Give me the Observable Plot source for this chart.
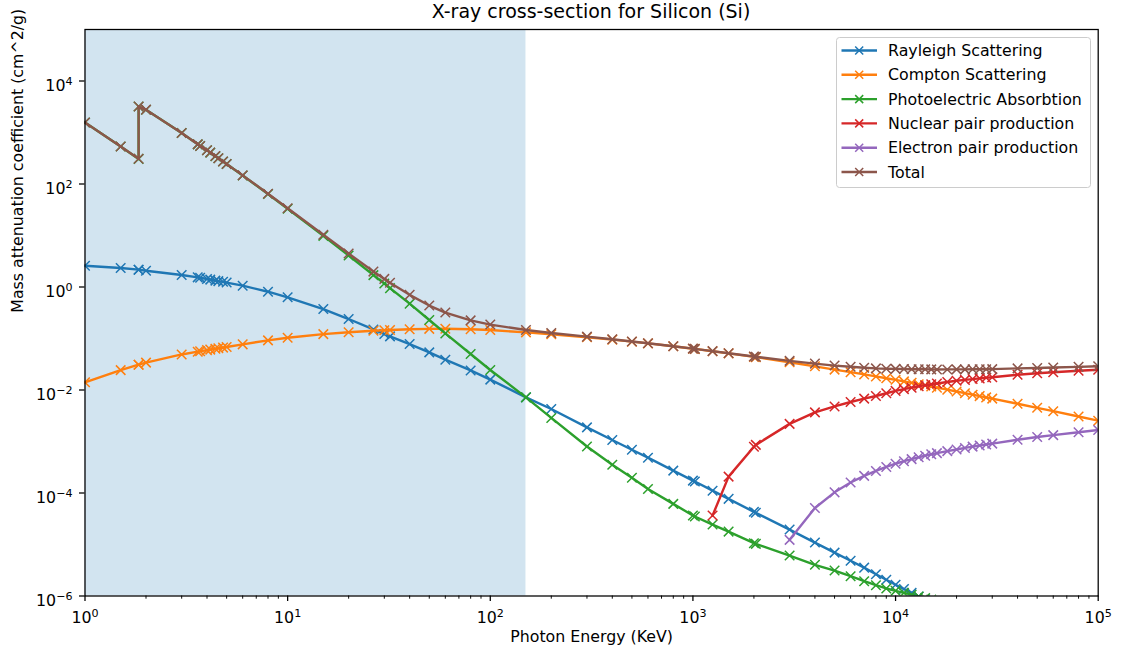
<!DOCTYPE html>
<html>
<head>
<meta charset="utf-8">
<script src="https://cdn.jsdelivr.net/npm/d3@7"></script>
<script src="https://cdn.jsdelivr.net/npm/@observablehq/plot@0.6"></script>
<style>
  body { margin: 0; background: #fff; font-family: "DejaVu Sans", sans-serif; }
  #chart { position: relative; width: 1121px; height: 657px; }
  #title { position: absolute; left: 84.5px; width: 1013px; top: 0; height: 27px; line-height: 22px;
           text-align: center; font-size: 19px; color: #000; }
  #plot { position: absolute; left: 0; top: 27px; }
  #legend { position: absolute; left: 836px; top: 37px; }
</style>
</head>
<body>
<div id="chart">
  <div id="title">X-ray cross-section for Silicon (Si)</div>
  <div id="plot"></div>
  <div id="legend"></div>
</div>
<script>
// Photon energies (keV); 1.8389 keV appears twice for the Si K edge
const energyKeV = [1, 1.5, 1.8389, 1.8389, 2, 3, 3.6, 3.7, 4, 4.15, 4.4, 4.55, 4.8, 5, 6,
  8, 10, 15, 20, 26.5, 30, 32, 40, 50, 60, 80, 100, 150, 200, 300, 400, 500, 600, 800, 1000,
  1022, 1250, 1500, 2000, 2044, 3000, 4000, 5000, 6000, 7000, 8000, 9000, 10000, 11000, 12000,
  13000, 14000, 15000, 16000, 18000, 20000, 22000, 24000, 26000, 28000, 30000, 40000, 50000,
  60000, 80000, 100000];

// Mass attenuation coefficients (cm^2/g)
const rayleigh = [2.59, 2.34, 2.17, 2.17, 2.07, 1.71, 1.54, 1.51, 1.43, 1.39, 1.33, 1.30, 1.26, 1.22, 1.06,
  0.81, 0.63, 0.373, 0.239, 0.150, 0.122, 0.110, 0.078, 0.0538, 0.0388, 0.024, 0.0159, 0.0072, 0.00428, 0.00188,
  0.00107, 6.9e-4, 4.85e-4, 2.72e-4, 1.74e-4, 1.67e-4, 1.11e-4, 7.7e-5, 4.3e-5, 4.12e-5,
  1.95e-5, 1.09e-5, 6.95e-6, 4.83e-6, 3.55e-6, 2.65e-6, 2.07e-6, 1.65e-6, 1.37e-6, 1.15e-6,
  9.8e-7, 8.5e-7, 7.4e-7, 6.5e-7, 5.1e-7, 4.15e-7, 3.43e-7, 2.88e-7, 2.45e-7, 2.12e-7,
  1.84e-7, 1.04e-7, 6.6e-8, 4.6e-8, 2.6e-8, 1.65e-8];

const compton = [0.0141, 0.0243, 0.0310, 0.0310, 0.0340, 0.0490, 0.0555, 0.0565, 0.0595, 0.0609,
  0.0632, 0.0645, 0.0666, 0.0683, 0.0770, 0.0920, 0.1035, 0.1215, 0.1320, 0.1415,
  0.1450, 0.1465, 0.1510, 0.1540, 0.1545, 0.1510, 0.1460, 0.1315, 0.1210, 0.1059,
  0.0950, 0.0868, 0.0803, 0.07055, 0.06342, 0.06272, 0.05669, 0.05151, 0.04395, 0.04338,
  0.03455, 0.02881, 0.02488, 0.02221, 0.02006, 0.01834, 0.01693, 0.01577, 0.01469, 0.01377,
  0.01297, 0.01228, 0.01166, 0.01109, 0.01014, 0.009353, 0.008679, 0.008106, 0.007612, 0.007181,
  0.006803, 0.005401, 0.004505, 0.003879, 0.003056, 0.002535];

const photoelectric = [1567, 533.1, 307.0, 3190, 2775, 976.6, 588, 545, 451.4, 407,
  347, 316, 273, 243.7, 145.9, 63.78, 33.16, 9.85, 4.09, 1.70,
  1.169, 0.950, 0.475, 0.2287, 0.1254, 0.0500, 0.0245, 0.0072, 0.00287, 8.0e-4,
  3.54e-4, 1.97e-4, 1.2e-4, 6.15e-5, 3.65e-5, 3.5e-5, 2.44e-5, 1.78e-5, 1.06e-5, 1.03e-5,
  6.1e-6, 4.03e-6, 3.12e-6, 2.42e-6, 1.94e-6, 1.62e-6, 1.40e-6, 1.26e-6, 1.15e-6, 1.06e-6,
  9.8e-7, 9.1e-7, 8.5e-7, 8.0e-7, 7.1e-7, 6.4e-7, 5.8e-7, 5.3e-7, 4.9e-7, 4.55e-7,
  4.25e-7, 3.2e-7, 2.55e-7, 2.13e-7, 1.6e-7, 1.28e-7];

// Pair production only above threshold: these start at 1250 keV and 3000 keV
const nuclearPair = [3.65e-5, 2.08e-4, 7.9e-4, 8.6e-4,
  2.2e-3, 3.68e-3, 4.8e-3, 5.85e-3, 6.8e-3, 7.65e-3, 8.65e-3, 9.6e-3, 1.04e-2, 1.11e-2,
  1.18e-2, 1.24e-2, 1.29e-2, 1.34e-2, 1.43e-2, 1.51e-2, 1.57e-2, 1.63e-2, 1.68e-2, 1.73e-2,
  1.77e-2, 1.98e-2, 2.11e-2, 2.21e-2, 2.36e-2, 2.47e-2];

const electronPair = [1.23e-5, 5.1e-5, 1.03e-4, 1.6e-4, 2.15e-4,
  2.68e-4, 3.2e-4, 3.7e-4, 4.15e-4, 4.55e-4, 4.95e-4, 5.3e-4, 5.65e-4, 5.95e-4, 6.5e-4,
  7.0e-4, 7.5e-4, 7.95e-4, 8.35e-4, 8.75e-4, 9.1e-4, 1.08e-3, 1.22e-3, 1.33e-3, 1.51e-3, 1.67e-3];

const total = [1569.6, 535.46, 309.2, 3192.2, 2777.1, 978.36, 589.6, 546.57, 452.89, 408.45,
  348.39, 317.36, 274.33, 244.99, 147.04, 64.68, 33.89, 10.34, 4.461, 1.9915,
  1.436, 1.2065, 0.704, 0.4365, 0.3187, 0.2250, 0.1864, 0.1459, 0.1282, 0.1086,
  0.09642, 0.08769, 0.08091, 0.07088, 0.06363, 0.06292, 0.05686, 0.05181, 0.04479, 0.04429,
  0.03679, 0.03256, 0.02979, 0.02823, 0.02708, 0.02626, 0.02590, 0.02574, 0.02551, 0.02533,
  0.02527, 0.02521, 0.02513, 0.02509, 0.02510, 0.02515, 0.02513, 0.02521, 0.02525, 0.02536,
  0.02542, 0.02628, 0.02682, 0.02731, 0.02817, 0.02890];

const seriesNames = ["Rayleigh Scattering", "Compton Scattering", "Photoelectric Absorbtion",
  "Nuclear pair production", "Electron pair production", "Total"];
const seriesColors = ["#1f77b4", "#ff7f0e", "#2ca02c", "#d62728", "#9467bd", "#8c564b"];

// Shaded energy band (keV)
const shadedBand = [1, 150];

const xDomain = [1, 1e5];
const yDomain = [1e-6, 1e5];
const xTicks = [1, 10, 100, 1000, 10000, 100000];
const yTicks = [1e-6, 1e-4, 1e-2, 1, 100, 10000];
const xMinorTicks = xTicks.slice(0, -1).flatMap(d => [2, 3, 4, 5, 6, 7, 8, 9].map(m => m * d));

// Build one row set per series, aligning pair production with the tail of the energy grid
const seriesValues = [rayleigh, compton, photoelectric, nuclearPair, electronPair, total];
const series = seriesValues.map((vals, i) => {
  const energies = energyKeV.slice(energyKeV.length - vals.length);
  return {
    name: seriesNames[i],
    color: seriesColors[i],
    rows: vals.map((v, j) => ({energy: energies[j], value: v}))
  };
});

// Tick labels as "10^n"; the exponent is raised into a smaller tspan after rendering
const pow10 = d => "10^" + Math.round(Math.log10(d));

const marks = [
  Plot.rect([shadedBand], {x1: d => d[0], x2: d => d[1], fill: "#1f77b4", fillOpacity: 0.2})
];
for (const s of series) {
  marks.push(
    Plot.line(s.rows, {x: "energy", y: "value", stroke: s.color, strokeWidth: 2.4, clip: true}),
    Plot.dot(s.rows, {x: "energy", y: "value", symbol: "times", r: 4.4, stroke: s.color, strokeWidth: 1.5, clip: true})
  );
}
marks.push(
  Plot.axisX(xMinorTicks, {tickSize: 3.2, tickFormat: () => "", strokeWidth: 0.95, label: null}),
  Plot.axisX(xTicks, {tickSize: 5.5, tickPadding: 10.5, tickFormat: pow10, fontSize: 15.8, strokeWidth: 1.27, label: null}),
  Plot.axisY(yTicks, {tickSize: 5.5, tickFormat: () => "", strokeWidth: 1.27, label: null}),
  Plot.axisY(yTicks, {tickSize: 0, tickPadding: 12.5, tickFormat: pow10, fontSize: 15.8, dy: 4.5, label: null}),
  Plot.text(["Photon Energy (KeV)"], {text: d => d, frameAnchor: "bottom", dy: 45.5, fontSize: 15.8}),
  Plot.text(["Mass attenuation coefficient (cm^2/g)"], {text: d => d, frameAnchor: "left", rotate: -90, dx: -67, fontSize: 15.8}),
  Plot.frame({stroke: "black", strokeWidth: 1.27})
);

const chart = Plot.plot({
  width: 1121,
  height: 630,
  marginTop: 2,
  marginBottom: 61.5,
  marginLeft: 84.5,
  marginRight: 23.3,
  x: {type: "log", domain: xDomain, axis: null},
  y: {type: "log", domain: yDomain, axis: null},
  style: {fontFamily: "DejaVu Sans", fontSize: "15.8px", color: "black", background: "white", overflow: "visible"},
  marks
});

// Typeset power-of-ten tick labels with a raised, smaller exponent
d3.select(chart).selectAll("text").each(function() {
  const m = /^10\^(-?\d+)$/.exec(this.textContent);
  if (!m) return;
  const t = d3.select(this).text(null);
  t.append("tspan").text("10");
  t.append("tspan").attr("dy", "-6").attr("font-size", "11.1px").text(m[1].replace("-", "\u2212"));
});
document.getElementById("plot").appendChild(chart);

// Legend: line sample with cross marker, then label
const leg = d3.select("#legend").append("svg")
  .attr("width", 258).attr("height", 153)
  .style("font-family", "DejaVu Sans").style("font-size", "15.8px");
leg.append("rect")
  .attr("x", 0.5).attr("y", 0.5).attr("width", 254).attr("height", 150).attr("rx", 3)
  .attr("fill", "white").attr("fill-opacity", 0.8).attr("stroke", "#cccccc");
series.forEach((s, i) => {
  const g = leg.append("g").attr("transform", `translate(0,${13.5 + i * 24.3})`);
  g.append("line").attr("x1", 5.5).attr("x2", 41).attr("stroke", s.color).attr("stroke-width", 2.4);
  g.append("path").attr("d", "M-4,-4L4,4M-4,4L4,-4").attr("transform", "translate(23.2,0)")
    .attr("stroke", s.color).attr("stroke-width", 1.5).attr("fill", "none");
  g.append("text").attr("x", 52).attr("dy", "0.35em").attr("fill", "black").text(s.name);
});
</script>
</body>
</html>
